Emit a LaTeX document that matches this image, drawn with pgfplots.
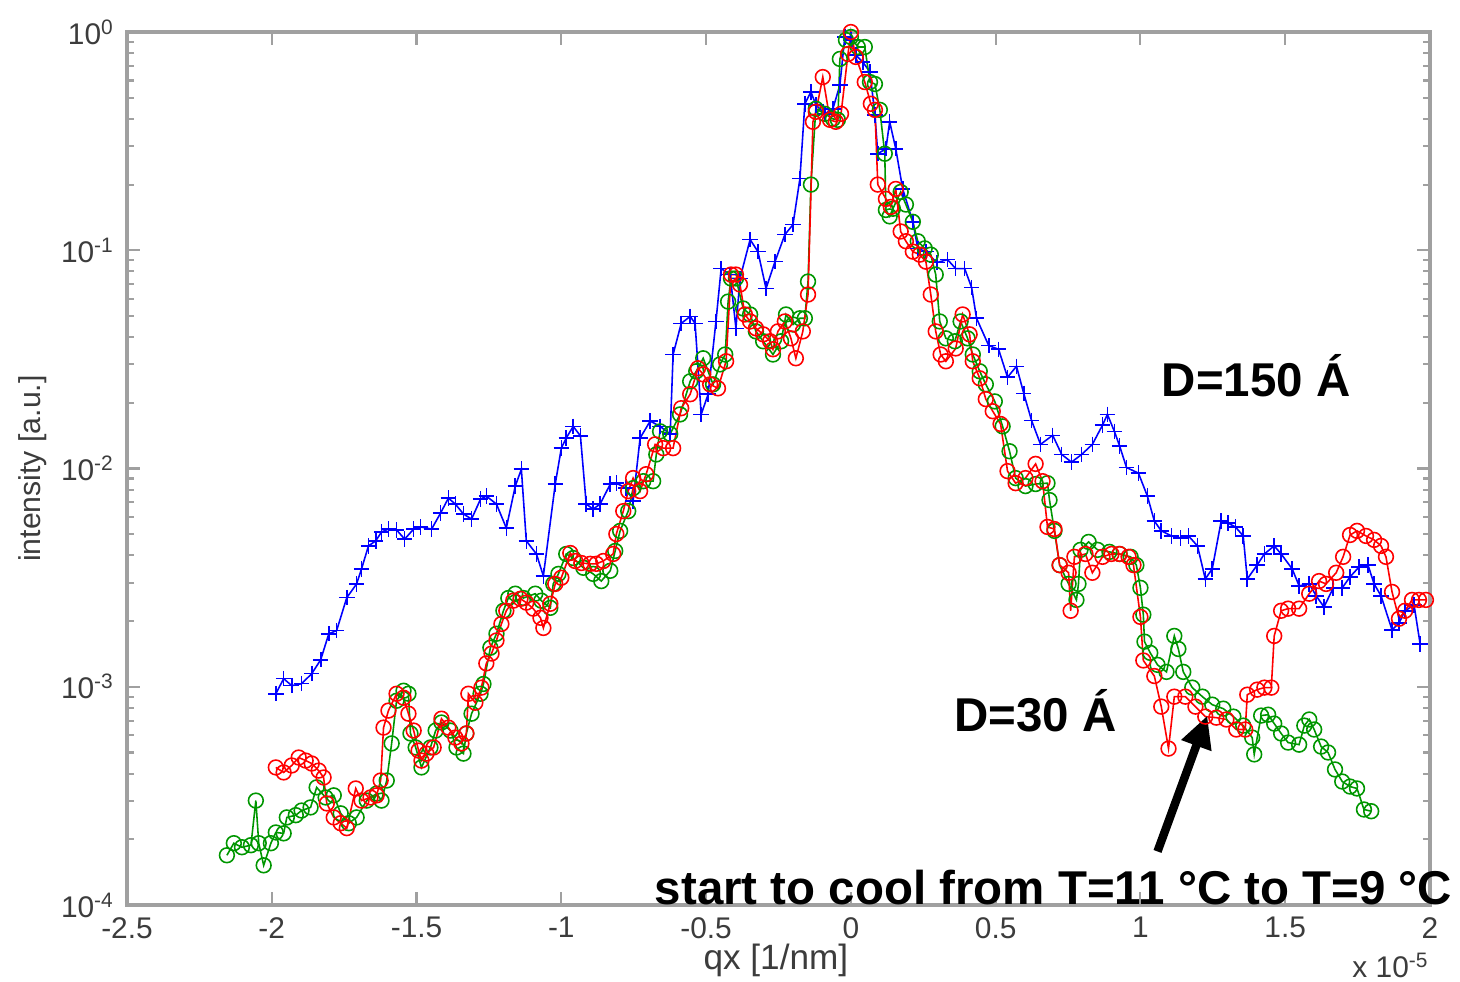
\documentclass[border=0pt]{standalone}
\usepackage{fontspec}
\setmainfont{Liberation Sans}
\usepackage{pgfplots}
\pgfplotsset{compat=1.18}
\usetikzlibrary{arrows.meta}
\definecolor{mgreen}{RGB}{0,150,0}
\definecolor{frame}{RGB}{160,160,160}
\definecolor{ticktext}{RGB}{60,60,60}
\begin{document}
\begin{tikzpicture}
\useasboundingbox (-1.27cm,-0.76cm) rectangle (13.33cm,9.05cm);
\begin{axis}[
  at={(0,0)}, anchor=south west,
  scale only axis, width=13.03cm, height=8.73cm,
  xmin=-2.5, xmax=2, ymin=1e-4, ymax=1, ymode=log,
  xtick={-2.5,-2,-1.5,-1,-0.5,0,0.5,1,1.5,2},
  xticklabels={-2.5,-2,-1.5,-1,-0.5,0,0.5,1,1.5,2},
  ytick={1e-4,1e-3,1e-2,1e-1,1},
  yticklabels={10\textsuperscript{-4},10\textsuperscript{-3},10\textsuperscript{-2},10\textsuperscript{-1},10\textsuperscript{0}},
  tick align=inside,
  major tick length=0.13cm, minor tick length=0.07cm,
  axis line style={frame, line width=0.9pt},
  every tick/.style={frame, line width=0.6pt},
  tick label style={font=\fontsize{8.5}{10}\selectfont, text=ticktext},
  xlabel={qx [1/nm]}, ylabel={intensity [a.u.]},
  every axis x label/.style={at={(axis description cs:0.498,0)}, anchor=center, yshift=-0.55cm, font=\fontsize{10}{12}\selectfont, text=ticktext},
  every axis y label/.style={at={([xshift=-0.94cm]axis description cs:0,0.5)}, anchor=center, rotate=90, font=\fontsize{8.6}{10}\selectfont, text=ticktext},
  clip=false,
]
\addplot[blue, line width=0.45pt, mark=+, mark size=2.2pt] coordinates {
(-1.986,9.29e-4) (-1.959,1.089e-3) (-1.931,1.012e-3) (-1.897,1.033e-3) (-1.862,1.148e-3)
(-1.831,1.33e-3) (-1.803,1.75e-3) (-1.776,1.81e-3) (-1.741,2.56e-3) (-1.707,2.96e-3)
(-1.690,3.47e-3) (-1.666,4.42e-3) (-1.641,4.66e-3) (-1.621,5.12e-3) (-1.597,5.28e-3)
(-1.569,5.23e-3) (-1.541,4.75e-3) (-1.510,5.28e-3) (-1.486,5.40e-3) (-1.448,5.28e-3)
(-1.417,6.25e-3) (-1.390,7.32e-3) (-1.366,6.87e-3) (-1.338,6.19e-3) (-1.310,5.87e-3)
(-1.279,7.24e-3) (-1.259,7.48e-3) (-1.224,6.87e-3) (-1.190,5.34e-3) (-1.159,8.31e-3)
(-1.138,9.93e-3) (-1.121,4.66e-3) (-1.086,4.06e-3) (-1.062,3.22e-3) (-1.021,8.49e-3)
(-1.000,1.24e-2) (-0.983,1.38e-2) (-0.959,1.56e-2) (-0.934,1.41e-2) (-0.914,6.87e-3)
(-0.890,6.52e-3) (-0.866,6.87e-3) (-0.831,8.49e-3) (-0.810,8.57e-3) (-0.776,8.13e-3)
(-0.752,7.10e-3) (-0.728,1.38e-2) (-0.693,1.65e-2) (-0.659,1.56e-2) (-0.624,1.44e-2)
(-0.614,3.33e-2) (-0.586,4.62e-2) (-0.555,4.98e-2) (-0.538,4.62e-2) (-0.517,1.77e-2)
(-0.493,2.19e-2) (-0.466,4.72e-2) (-0.448,8.24e-2) (-0.417,7.74e-2) (-0.397,4.39e-2)
(-0.383,7.43e-2) (-0.348,0.112) (-0.321,9.86e-2) (-0.293,6.68e-2) (-0.262,8.87e-2)
(-0.228,0.118) (-0.200,0.131) (-0.176,0.213) (-0.159,0.469) (-0.138,0.532)
(-0.121,0.464) (-0.090,0.422) (-0.062,0.445) (-0.038,0.572) (-0.021,0.949)
(0.000,0.919) (0.017,0.785) (0.041,0.729) (0.066,0.656) (0.083,0.417)
(0.093,0.277) (0.121,0.292) (0.134,0.388) (0.155,0.292) (0.179,0.191)
(0.214,0.135) (0.231,0.102) (0.259,9.86e-2) (0.297,8.79e-2) (0.334,9.06e-2)
(0.362,8.24e-2) (0.393,8.24e-2) (0.417,6.75e-2) (0.434,4.88e-2) (0.476,3.66e-2)
(0.510,3.52e-2) (0.541,2.62e-2) (0.572,2.94e-2) (0.597,2.21e-2) (0.624,1.66e-2)
(0.655,1.29e-2) (0.697,1.42e-2) (0.728,1.16e-2) (0.762,1.07e-2) (0.797,1.16e-2)
(0.834,1.29e-2) (0.869,1.58e-2) (0.886,1.77e-2) (0.910,1.48e-2) (0.928,1.27e-2)
(0.952,1.01e-2) (0.993,9.53e-3) (1.024,7.48e-3) (1.048,5.75e-3) (1.072,5.18e-3)
(1.107,4.91e-3) (1.138,4.81e-3) (1.166,4.91e-3) (1.197,4.42e-3) (1.224,3.12e-3)
(1.248,3.47e-3) (1.279,5.75e-3) (1.303,5.62e-3) (1.328,5.40e-3) (1.355,4.91e-3)
(1.369,3.12e-3) (1.403,3.61e-3) (1.428,4.06e-3) (1.462,4.42e-3) (1.486,4.06e-3)
(1.524,3.47e-3) (1.548,2.90e-3) (1.583,2.96e-3) (1.607,2.61e-3) (1.634,2.32e-3)
(1.666,2.84e-3) (1.697,2.84e-3) (1.724,3.19e-3) (1.755,3.54e-3) (1.786,3.61e-3)
(1.807,2.96e-3) (1.831,2.61e-3) (1.869,1.82e-3) (1.893,1.96e-3) (1.914,2.23e-3)
(1.945,2.37e-3) (1.966,1.57e-3)
};
\addplot[mgreen, line width=0.45pt, mark=o, mark size=2.1pt] coordinates {
(-2.155,1.69e-4) (-2.131,1.92e-4) (-2.103,1.84e-4) (-2.072,1.88e-4) (-2.055,3.01e-4)
(-2.045,1.92e-4) (-2.028,1.52e-4) (-2.003,1.92e-4) (-1.986,2.15e-4) (-1.959,2.13e-4)
(-1.948,2.52e-4) (-1.917,2.58e-4) (-1.897,2.71e-4) (-1.866,2.80e-4) (-1.845,3.46e-4)
(-1.814,3.11e-4) (-1.786,3.18e-4) (-1.762,2.63e-4) (-1.734,2.37e-4) (-1.707,2.52e-4)
(-1.672,3.01e-4) (-1.638,3.24e-4) (-1.621,3.01e-4) (-1.603,3.72e-4) (-1.586,5.50e-4)
(-1.569,8.63e-4) (-1.545,9.59e-4) (-1.528,9.29e-4) (-1.521,6.11e-4) (-1.503,5.27e-4)
(-1.483,4.27e-4) (-1.452,5.27e-4) (-1.434,6.30e-4) (-1.414,6.86e-4) (-1.383,6.30e-4)
(-1.362,5.27e-4) (-1.338,4.94e-4) (-1.328,6.11e-4) (-1.310,7.53e-4) (-1.279,9.29e-4)
(-1.269,1.03e-3) (-1.245,1.51e-3) (-1.224,1.75e-3) (-1.200,2.23e-3) (-1.183,2.55e-3)
(-1.159,2.67e-3) (-1.131,2.55e-3) (-1.090,2.67e-3) (-1.069,2.48e-3) (-1.038,2.30e-3)
(-1.028,2.96e-3) (-1.010,3.29e-3) (-0.983,4.06e-3) (-0.959,3.89e-3) (-0.924,3.51e-3)
(-0.890,3.29e-3) (-0.862,3.05e-3) (-0.831,3.40e-3) (-0.814,4.19e-3) (-0.797,5.18e-3)
(-0.769,6.38e-3) (-0.752,8.13e-3) (-0.717,8.75e-3) (-0.683,8.75e-3) (-0.672,1.16e-2)
(-0.659,1.48e-2) (-0.624,1.44e-2) (-0.590,1.77e-2) (-0.555,2.51e-2) (-0.534,2.79e-2)
(-0.510,3.20e-2) (-0.476,2.43e-2) (-0.452,3.00e-2) (-0.434,3.33e-2) (-0.424,5.82e-2)
(-0.414,7.43e-2) (-0.397,7.43e-2) (-0.372,5.41e-2) (-0.348,5.08e-2) (-0.328,4.25e-2)
(-0.303,3.83e-2) (-0.269,3.33e-2) (-0.241,3.83e-2) (-0.224,5.08e-2) (-0.200,4.57e-2)
(-0.176,4.88e-2) (-0.159,4.88e-2) (-0.148,7.19e-2) (-0.138,0.200) (-0.121,0.445)
(-0.090,0.422) (-0.062,0.400) (-0.045,0.396) (-0.038,0.753) (-0.017,0.919)
(0.000,0.949) (0.024,0.854) (0.048,0.854) (0.066,0.590) (0.083,0.578)
(0.100,0.440) (0.117,0.277) (0.121,0.153) (0.134,0.143) (0.145,0.155)
(0.172,0.185) (0.190,0.162) (0.214,0.135) (0.231,0.110) (0.255,0.102)
(0.276,9.55e-2) (0.293,7.74e-2) (0.307,4.72e-2) (0.328,3.95e-2) (0.359,3.83e-2)
(0.379,4.72e-2) (0.403,3.95e-2) (0.421,3.33e-2) (0.445,2.79e-2) (0.466,2.43e-2)
(0.497,2.03e-2) (0.524,1.56e-2) (0.548,1.20e-2) (0.569,9.04e-3) (0.603,8.31e-3)
(0.638,8.49e-3) (0.679,8.57e-3) (0.686,7.17e-3) (0.703,5.18e-3) (0.721,3.61e-3)
(0.752,2.96e-3) (0.779,2.50e-3) (0.786,2.96e-3) (0.793,4.24e-3) (0.821,4.61e-3)
(0.852,4.24e-3) (0.893,4.15e-3) (0.928,4.06e-3) (0.966,3.94e-3) (0.986,3.61e-3)
(1.000,2.84e-3) (1.010,2.14e-3) (1.014,1.61e-3) (1.034,1.43e-3) (1.059,1.26e-3)
(1.090,1.17e-3) (1.117,1.71e-3) (1.131,1.49e-3) (1.148,1.17e-3) (1.179,9.91e-4)
(1.214,9.01e-4) (1.248,8.28e-4) (1.286,7.94e-4) (1.321,7.30e-4) (1.355,6.64e-4)
(1.386,5.85e-4) (1.393,4.90e-4) (1.417,7.38e-4) (1.441,7.45e-4) (1.462,6.78e-4)
(1.486,6.11e-4) (1.510,5.55e-4) (1.548,5.43e-4) (1.566,6.64e-4) (1.583,7.08e-4)
(1.600,6.37e-4) (1.624,5.32e-4) (1.648,5.00e-4) (1.672,4.18e-4) (1.697,3.68e-4)
(1.724,3.49e-4) (1.748,3.42e-4) (1.772,2.74e-4) (1.797,2.69e-4)
};
\addplot[red, line width=0.45pt, mark=o, mark size=2.1pt] coordinates {
(-1.986,4.27e-4) (-1.959,4.05e-4) (-1.931,4.36e-4) (-1.907,4.74e-4) (-1.883,4.59e-4)
(-1.862,4.45e-4) (-1.838,4.13e-4) (-1.821,3.84e-4) (-1.810,2.92e-4) (-1.786,2.52e-4)
(-1.762,2.37e-4) (-1.741,2.25e-4) (-1.710,3.42e-4) (-1.690,3.01e-4) (-1.659,3.11e-4)
(-1.638,3.18e-4) (-1.624,3.72e-4) (-1.614,6.50e-4) (-1.597,7.78e-4) (-1.569,9.29e-4)
(-1.545,8.91e-4) (-1.528,7.53e-4) (-1.510,6.30e-4) (-1.493,5.10e-4) (-1.483,4.59e-4)
(-1.466,4.94e-4) (-1.441,5.27e-4) (-1.414,7.14e-4) (-1.390,6.50e-4) (-1.366,5.85e-4)
(-1.345,5.50e-4) (-1.328,6.11e-4) (-1.321,9.29e-4) (-1.297,8.45e-4) (-1.276,9.91e-4)
(-1.259,1.28e-3) (-1.241,1.42e-3) (-1.224,1.63e-3) (-1.207,1.94e-3) (-1.190,2.23e-3)
(-1.166,2.48e-3) (-1.141,2.53e-3) (-1.121,2.43e-3) (-1.097,2.28e-3) (-1.072,2.07e-3)
(-1.062,1.86e-3) (-1.038,2.40e-3) (-1.021,2.96e-3) (-1.000,3.16e-3) (-0.969,4.10e-3)
(-0.952,3.77e-3) (-0.931,3.69e-3) (-0.900,3.66e-3) (-0.879,3.66e-3) (-0.855,3.77e-3)
(-0.821,4.06e-3) (-0.810,5.01e-3) (-0.786,6.38e-3) (-0.769,7.88e-3) (-0.752,9.04e-3)
(-0.728,7.88e-3) (-0.707,9.42e-3) (-0.676,1.29e-2) (-0.648,1.24e-2) (-0.614,1.24e-2)
(-0.586,1.89e-2) (-0.555,2.19e-2) (-0.528,2.88e-2) (-0.510,2.70e-2) (-0.486,2.43e-2)
(-0.459,2.33e-2) (-0.431,3.10e-2) (-0.414,7.74e-2) (-0.397,7.74e-2) (-0.383,6.97e-2)
(-0.366,5.08e-2) (-0.348,4.72e-2) (-0.328,4.39e-2) (-0.303,4.12e-2) (-0.279,3.83e-2)
(-0.269,3.52e-2) (-0.252,4.25e-2) (-0.228,4.72e-2) (-0.207,3.95e-2) (-0.190,3.20e-2)
(-0.166,4.25e-2) (-0.148,6.27e-2) (-0.131,0.388) (-0.121,0.431) (-0.097,0.622)
(-0.072,0.396) (-0.052,0.388) (-0.034,0.422) (-0.010,0.793) (0.000,1.000)
(0.017,0.769) (0.048,0.590) (0.069,0.469) (0.083,0.440) (0.093,0.200)
(0.121,0.172) (0.138,0.158) (0.155,0.191) (0.172,0.122) (0.190,0.110)
(0.214,9.86e-2) (0.238,9.55e-2) (0.259,8.87e-2) (0.276,6.27e-2) (0.293,4.25e-2)
(0.310,3.33e-2) (0.328,3.10e-2) (0.362,3.55e-2) (0.386,5.08e-2) (0.410,4.12e-2)
(0.421,3.10e-2) (0.445,2.59e-2) (0.466,2.08e-2) (0.490,1.83e-2) (0.517,1.60e-2)
(0.541,9.73e-3) (0.569,8.57e-3) (0.603,9.04e-3) (0.638,1.05e-2) (0.662,8.75e-3)
(0.679,5.40e-3) (0.703,5.28e-3) (0.721,3.61e-3) (0.752,3.33e-3) (0.759,2.23e-3)
(0.772,3.94e-3) (0.810,4.06e-3) (0.834,3.33e-3) (0.869,3.94e-3) (0.900,4.06e-3)
(0.928,4.06e-3) (0.959,3.94e-3) (0.976,3.61e-3) (1.000,2.09e-3) (1.010,1.32e-3)
(1.048,1.12e-3) (1.072,8.11e-4) (1.097,5.21e-4) (1.117,9.01e-4) (1.155,9.01e-4)
(1.190,8.11e-4) (1.224,7.30e-4) (1.262,7.22e-4) (1.297,7.08e-4) (1.331,6.37e-4)
(1.362,6.37e-4) (1.369,9.20e-4) (1.403,9.70e-4) (1.428,9.91e-4) (1.452,9.91e-4)
(1.462,1.71e-3) (1.486,2.23e-3) (1.510,2.28e-3) (1.548,2.28e-3) (1.583,2.67e-3)
(1.617,3.05e-3) (1.641,2.96e-3) (1.676,3.33e-3) (1.700,3.94e-3) (1.724,4.96e-3)
(1.748,5.18e-3) (1.779,4.91e-3) (1.807,4.71e-3) (1.831,4.42e-3) (1.848,3.94e-3)
(1.869,2.72e-3) (1.893,2.05e-3) (1.914,2.23e-3) (1.938,2.50e-3) (1.962,2.50e-3)
(1.986,2.50e-3)
};
\node[font=\fontsize{13.5}{16}\bfseries\selectfont, anchor=center] at (axis cs:1.40,2.65e-2) {D=150 Á};
\node[font=\fontsize{13.5}{16}\bfseries\selectfont, anchor=center] at (axis cs:0.638,7.78e-4) {D=30 Á};
\node[font=\fontsize{13.5}{16}\bfseries\selectfont, anchor=base] at (axis cs:0.70,1.01e-4) {start to cool from T=11 °C to T=9 °C};
\draw[line width=2.4pt, -{Triangle[length=0.32cm, width=0.3cm]}] (axis cs:1.059,1.76e-4) -- (axis cs:1.231,7.38e-4);
\node[anchor=north east, font=\fontsize{8.5}{10}\selectfont, text=ticktext, inner sep=0pt] at ([yshift=-0.47cm]rel axis cs:1,0) {x 10\textsuperscript{-5}};
\end{axis}
\end{tikzpicture}
\end{document}
